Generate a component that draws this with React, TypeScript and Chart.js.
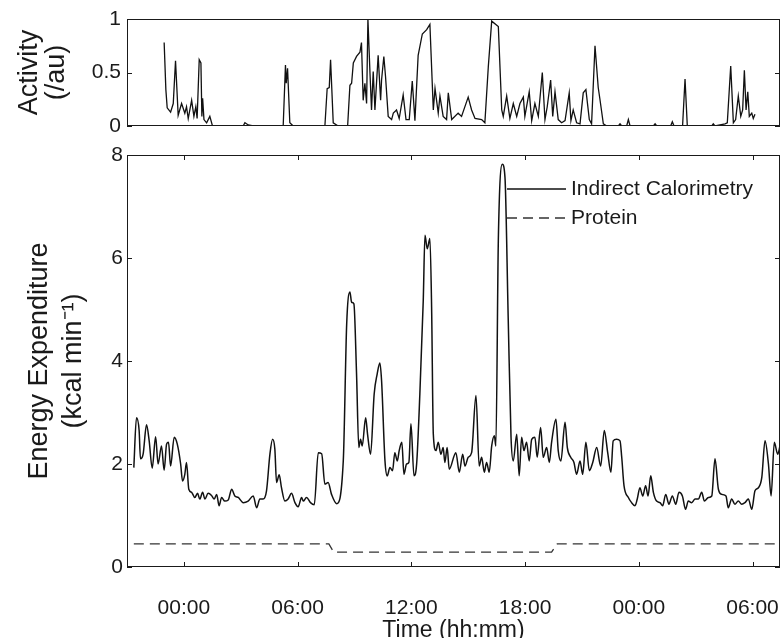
import React, { useEffect, useRef } from "react";
import { Chart, registerables } from "chart.js";

Chart.register(...registerables);

// ---------- data ----------
const tickHours = [0, 6, 12, 18, 24, 30];
const tickLabels = ["00:00", "06:00", "12:00", "18:00", "00:00", "06:00"];
const activityTicks = [0, 0.5, 1];
const energyTicks = [0, 2, 4, 6, 8];

const actHours = [
  -1.04, -0.95, -0.88, -0.7, -0.56, -0.44, -0.3, -0.12, 0.05, 0.14, 0.23, 0.41, 0.53, 0.63, 0.7, 0.81, 0.9, 0.95, 0.99,
  1.06, 1.2, 1.37, 1.51, 1.9, 3.13, 3.22, 3.4, 3.66, 5.24, 5.36, 5.4, 5.47, 5.59, 5.77, 7.44, 7.56, 7.67, 7.74, 7.88,
  8.14, 8.64, 8.76, 8.85, 8.94, 9.11, 9.29, 9.37, 9.46, 9.55, 9.64, 9.71, 9.82, 9.9, 9.99, 10.08, 10.25, 10.38, 10.43,
  10.55, 10.64, 10.78, 10.96, 11.05, 11.22, 11.36, 11.57, 11.72, 11.89, 12.05, 12.19, 12.36, 12.58, 12.81, 12.98,
  13.16, 13.25, 13.42, 13.51, 13.68, 13.86, 13.95, 14.13, 14.47, 14.65, 15.0, 15.18, 15.36, 15.71, 15.88, 16.06,
  16.24, 16.59, 16.77, 16.85, 17.03, 17.2, 17.38, 17.56, 17.73, 17.91, 17.99, 18.22, 18.35, 18.52, 18.7, 18.91,
  19.05, 19.17, 19.35, 19.46, 19.58, 19.75, 19.93, 20.11, 20.33, 20.42, 20.54, 20.72, 20.9, 21.07, 21.21, 21.39,
  21.51, 21.69, 21.86, 21.95, 22.13, 22.31, 22.92, 23.01, 23.1, 23.36, 23.45, 23.54, 24.77, 24.86, 24.95, 25.68,
  25.77, 25.86, 26.31, 26.44, 26.56, 27.85, 27.93, 28.02, 28.55, 28.67, 28.85, 28.99, 29.11, 29.25, 29.38, 29.48,
  29.57, 29.66, 29.75, 29.83, 29.96, 30.04, 30.13,
];
const actValues = [
  0.78, 0.34, 0.17, 0.13, 0.21, 0.61, 0.1, 0.21, 0.12, 0.18, 0.07, 0.24, 0.09, 0.18, 0.07, 0.62, 0.59, 0.09, 0.26,
  0.06, 0.03, 0.09, 0.0, 0.0, 0.0, 0.03, 0.01, 0.0, 0.0, 0.57, 0.4, 0.54, 0.03, 0.0, 0.0, 0.35, 0.36, 0.62, 0.03,
  0.0, 0.0, 0.38, 0.4, 0.59, 0.65, 0.69, 0.78, 0.24, 0.4, 0.21, 1.0, 0.49, 0.15, 0.51, 0.15, 0.66, 0.24, 0.43,
  0.65, 0.46, 0.09, 0.06, 0.12, 0.15, 0.07, 0.29, 0.06, 0.06, 0.42, 0.05, 0.66, 0.86, 0.9, 0.95,
  0.15, 0.35, 0.12, 0.28, 0.09, 0.06, 0.31, 0.06, 0.12, 0.09, 0.27, 0.15, 0.07, 0.06, 0.03, 0.55,
  0.98, 0.93, 0.15, 0.09, 0.28, 0.07, 0.21, 0.09, 0.21, 0.27, 0.09, 0.32, 0.05, 0.21, 0.09, 0.5,
  0.06, 0.18, 0.43, 0.09, 0.32, 0.06, 0.03, 0.05, 0.31, 0.05, 0.15, 0.03, 0.02, 0.31, 0.34, 0.06,
  0.02, 0.75, 0.36, 0.25, 0.02, 0.0, 0.0, 0.02, 0.0, 0.0, 0.06, 0.0, 0.0, 0.02, 0.0, 0.0,
  0.04, 0.0, 0.0, 0.44, 0.0, 0.0, 0.02, 0.0, 0.02, 0.03, 0.56, 0.03, 0.06, 0.28, 0.09, 0.15,
  0.52, 0.15, 0.32, 0.09, 0.12, 0.07, 0.11,
];

const eeHours = [
  -2.64, -2.5, -2.36, -2.29, -2.15, -1.97, -1.83, -1.67, -1.49, -1.36, -1.18, -1.04, -0.91, -0.81, -0.7, -0.51, -0.35,
  -0.17, -0.07, 0.05, 0.14, 0.26, 0.41, 0.58, 0.72, 0.84, 0.99, 1.11, 1.28, 1.46, 1.6, 1.73, 1.86, 1.99, 2.16, 2.34,
  2.52, 2.69, 2.87, 3.13, 3.39, 3.66, 3.84, 4.01, 4.18, 4.36, 4.54, 4.68, 4.8, 4.89, 5.03, 5.15, 5.33, 5.5, 5.68,
  5.86, 6.03, 6.21, 6.3, 6.47, 6.68, 6.88, 7.09, 7.27, 7.44, 7.61, 7.79, 8.06, 8.41, 8.59, 8.76, 8.85, 8.97, 9.11,
  9.23, 9.32, 9.41, 9.59, 9.69, 9.85, 10.04, 10.2, 10.34, 10.43, 10.61, 10.73, 10.87, 11.01, 11.13, 11.26, 11.36,
  11.5, 11.61, 11.75, 11.87, 11.98, 12.14, 12.28, 12.45, 12.63, 12.72, 12.84, 12.98, 13.07, 13.16, 13.3, 13.42,
  13.56, 13.68, 13.77, 13.89, 14.0, 14.35, 14.53, 14.71, 14.83, 15.0, 15.18, 15.41, 15.58, 15.71, 15.85, 15.97,
  16.11, 16.24, 16.38, 16.46, 16.59, 16.8, 16.94, 17.11, 17.26, 17.38, 17.56, 17.69, 17.82, 17.94, 18.08, 18.22,
  18.35, 18.52, 18.64, 18.82, 18.96, 19.14, 19.28, 19.4, 19.63, 19.75, 19.89, 20.11, 20.23, 20.41, 20.58, 20.72,
  20.9, 21.04, 21.21, 21.39, 21.57, 21.78, 21.99, 22.18, 22.36, 22.53, 22.65, 22.83, 23.01, 23.1, 23.22, 23.45,
  23.62, 23.8, 23.92, 24.06, 24.21, 24.36, 24.49, 24.63, 24.77, 24.94, 25.12, 25.26, 25.42, 25.59, 25.77, 25.95,
  26.12, 26.3, 26.47, 26.61, 26.79, 26.97, 27.14, 27.32, 27.46, 27.67, 27.85, 28.02, 28.2, 28.38, 28.6, 28.72,
  28.9, 29.07, 29.25, 29.43, 29.6, 29.78, 29.96, 30.13, 30.31, 30.49, 30.66, 30.84, 30.98, 31.15, 31.33, 31.45,
];
const eeValues = [
  1.93, 2.9, 2.65, 2.1, 2.19, 2.76, 2.45, 1.92, 2.53, 2.0, 2.35, 1.88, 2.39, 2.42, 1.96, 2.52, 2.39,
  2.0, 1.67, 1.8, 2.03, 1.51, 1.45, 1.35, 1.43, 1.32, 1.45, 1.32, 1.43, 1.39, 1.32, 1.41, 1.19, 1.35, 1.28, 1.3,
  1.51, 1.38, 1.35, 1.25, 1.28, 1.38, 1.15, 1.32, 1.32, 1.48, 2.19, 2.48, 2.29, 1.64, 1.79, 1.54, 1.28, 1.32, 1.43,
  1.25, 1.17, 1.35, 1.28, 1.35, 1.25, 1.21, 2.22, 2.2, 1.61, 1.64, 1.41, 1.23, 2.06, 4.72, 5.34, 5.14, 5.11, 3.75,
  2.32, 2.48, 2.35, 2.9, 2.58, 2.19, 3.36, 3.75, 3.96, 3.62, 2.06, 1.77, 1.93, 1.87, 2.22, 2.06, 2.26,
  2.42, 1.8, 2.0, 2.03, 2.78, 1.77, 2.0, 3.36, 5.18, 6.44, 6.18, 6.38, 5.05, 2.58, 2.26, 2.42,
  2.19, 2.32, 2.03, 2.32, 1.9, 2.22, 1.84, 2.19, 1.96, 2.13, 2.22, 3.33, 1.96, 2.13, 1.84, 2.03,
  1.84, 2.35, 2.55, 2.35, 6.34, 7.82, 7.57, 4.85, 2.52, 2.06, 2.58, 1.77, 2.52, 2.26, 2.42, 2.06,
  2.48, 2.52, 2.13, 2.71, 2.13, 2.32, 2.03, 2.42, 2.87, 2.26, 2.06, 2.81, 2.32, 2.13, 2.03, 1.8,
  2.06, 1.8, 2.42, 1.87, 2.03, 2.32, 1.96, 2.65, 2.22, 1.84, 2.45, 2.48, 2.45, 2.13, 1.58, 1.35,
  1.25, 1.19, 1.32, 1.54, 1.38, 1.58, 1.38, 1.77, 1.45, 1.28, 1.25, 1.19, 1.41, 1.22, 1.38, 1.22,
  1.45, 1.38, 1.12, 1.28, 1.25, 1.32, 1.32, 1.45, 1.28, 1.35, 1.38, 2.1, 1.51, 1.41, 1.38, 1.15,
  1.32, 1.22, 1.28, 1.22, 1.25, 1.32, 1.12, 1.48, 1.54, 1.74, 2.45, 2.0, 1.38, 2.42, 2.19, 2.35,
];

const proteinHours = [-2.64, 7.65, 7.9, 19.4, 19.7, 31.45];
const proteinValues = [0.45, 0.45, 0.29, 0.29, 0.45, 0.45];

// ---------- styling ----------
const FONT = "'Liberation Sans', Arial, Helvetica, sans-serif";
const INK = "#1a1a1a";
const X_MIN = -3;
const X_MAX = 31.45;

const toPoints = (xs: number[], ys: number[]) => xs.map((x, i) => ({ x, y: ys[i] }));

const zeroPadding = (s: any) => {
  s.paddingLeft = 0;
  s.paddingRight = 0;
  s.paddingTop = 0;
  s.paddingBottom = 0;
};

const framePlugin = {
  id: "matlabFrame",
  afterDatasetsDraw(chart: any, _args: any, opts: any) {
    const { ctx, chartArea: a } = chart;
    ctx.save();
    ctx.strokeStyle = INK;
    ctx.lineWidth = 1;
    ctx.setLineDash([]);
    ctx.strokeRect(a.left + 0.5, a.top + 0.5, a.right - a.left - 1, a.bottom - a.top - 1);
    const len = 5;
    const ys = chart.scales.y;
    ctx.beginPath();
    ys.ticks.forEach((t: any) => {
      const p = Math.round(ys.getPixelForValue(t.value)) + 0.5;
      ctx.moveTo(a.left, p);
      ctx.lineTo(a.left + len, p);
      ctx.moveTo(a.right, p);
      ctx.lineTo(a.right - len, p);
    });
    if (opts && opts.xTicks) {
      const xs = chart.scales.x;
      xs.ticks.forEach((t: any) => {
        const p = Math.round(xs.getPixelForValue(t.value)) + 0.5;
        ctx.moveTo(p, a.bottom);
        ctx.lineTo(p, a.bottom - len);
        ctx.moveTo(p, a.top);
        ctx.lineTo(p, a.top + len);
      });
    }
    ctx.stroke();
    ctx.restore();
  },
};

const insideLegendPlugin = {
  id: "insideLegend",
  afterDatasetsDraw(chart: any) {
    const { ctx, chartArea: a } = chart;
    ctx.save();
    ctx.font = `21px ${FONT}`;
    ctx.textBaseline = "middle";
    ctx.textAlign = "left";
    chart.data.datasets.forEach((ds: any, i: number) => {
      const y = a.top + 34 + i * 29;
      ctx.strokeStyle = ds.borderColor;
      ctx.lineWidth = 1.3;
      ctx.setLineDash(ds.borderDash || []);
      ctx.beginPath();
      ctx.moveTo(a.right - 273, y);
      ctx.lineTo(a.right - 214, y);
      ctx.stroke();
      ctx.setLineDash([]);
      ctx.fillStyle = INK;
      ctx.fillText(ds.label, a.right - 209, y);
    });
    ctx.restore();
  },
};

function ActivityChart() {
  const ref = useRef<HTMLCanvasElement | null>(null);
  useEffect(() => {
    if (!ref.current) return;
    const chart = new Chart(ref.current, {
      type: "line",
      data: {
        datasets: [
          {
            label: "Activity",
            data: toPoints(actHours, actValues),
            borderColor: "#111",
            borderWidth: 1.3,
            pointRadius: 0,
            tension: 0,
          },
        ],
      },
      options: {
        animation: false,
        responsive: false,
        devicePixelRatio: 1,
        layout: { padding: { left: 0, right: 3, top: 19, bottom: 14 } },
        plugins: { legend: { display: false }, tooltip: { enabled: false }, matlabFrame: { xTicks: false } } as any,
        scales: {
          x: { type: "linear", min: X_MIN, max: X_MAX, display: false },
          y: {
            type: "linear",
            min: 0,
            max: 1,
            afterBuildTicks: (s: any) => {
              s.ticks = activityTicks.map((v) => ({ value: v }));
            },
            afterFit: (s: any) => {
              s.width = 127;
              zeroPadding(s);
            },
            grid: { display: false, drawTicks: false },
            border: { display: false },
            ticks: {
              font: { family: FONT, size: 21 },
              color: INK,
              padding: 6,
              callback: (v: any) => String(Number(v)),
            },
            title: {
              display: true,
              text: ["Activity", "(/au)"],
              font: { family: FONT, size: 27, lineHeight: 1.0 },
              color: INK,
              padding: { top: 16, bottom: 0 },
            },
          },
        },
      },
      plugins: [framePlugin],
    });
    return () => chart.destroy();
  }, []);
  return (
    <canvas
      ref={ref}
      width={783}
      height={140}
      style={{ position: "absolute", left: 0, top: 0, width: 783, height: 140 }}
    />
  );
}

function EnergyChart() {
  const ref = useRef<HTMLCanvasElement | null>(null);
  useEffect(() => {
    if (!ref.current) return;
    const chart = new Chart(ref.current, {
      type: "line",
      data: {
        datasets: [
          {
            label: "Indirect Calorimetry",
            data: toPoints(eeHours, eeValues),
            borderColor: "#111",
            borderWidth: 1.5,
            pointRadius: 0,
            cubicInterpolationMode: "monotone",
          },
          {
            label: "Protein",
            data: toPoints(proteinHours, proteinValues),
            borderColor: "#333",
            borderWidth: 1.3,
            borderDash: [10, 6],
            pointRadius: 0,
            tension: 0,
          },
        ],
      },
      options: {
        animation: false,
        responsive: false,
        devicePixelRatio: 1,
        layout: { padding: { left: 0, right: 3, top: 15, bottom: 0 } },
        plugins: { legend: { display: false }, tooltip: { enabled: false }, matlabFrame: { xTicks: true } } as any,
        scales: {
          x: {
            type: "linear",
            min: X_MIN,
            max: X_MAX,
            afterBuildTicks: (s: any) => {
              s.ticks = tickHours.map((v) => ({ value: v }));
            },
            afterFit: (s: any) => {
              s.height = 93;
              zeroPadding(s);
            },
            grid: { display: false, drawTicks: false },
            border: { display: false },
            ticks: {
              font: { family: FONT, size: 21 },
              color: INK,
              padding: 29,
              maxRotation: 0,
              autoSkip: false,
              callback: (v: any) => {
                const i = tickHours.indexOf(Number(v));
                return i >= 0 ? tickLabels[i] : "";
              },
            },
            title: {
              display: true,
              text: "Time (hh:mm)",
              font: { family: FONT, size: 23 },
              color: INK,
              padding: { top: 0, bottom: 16 },
            },
          },
          y: {
            type: "linear",
            min: 0,
            max: 8,
            afterBuildTicks: (s: any) => {
              s.ticks = energyTicks.map((v) => ({ value: v }));
            },
            afterFit: (s: any) => {
              s.width = 127;
              zeroPadding(s);
            },
            grid: { display: false, drawTicks: false },
            border: { display: false },
            ticks: {
              font: { family: FONT, size: 21 },
              color: INK,
              padding: 4,
              callback: (v: any) => String(Number(v)),
            },
            title: {
              display: true,
              text: ["Energy Expenditure", "(kcal min\u207B\u00B9)"],
              font: { family: FONT, size: 27, lineHeight: 1.26 },
              color: INK,
              padding: { top: 23, bottom: 0 },
            },
          },
        },
      },
      plugins: [framePlugin, insideLegendPlugin],
    });
    return () => chart.destroy();
  }, []);
  return (
    <canvas
      ref={ref}
      width={783}
      height={520}
      style={{ position: "absolute", left: 0, top: 140, width: 783, height: 520 }}
    />
  );
}

export default function App() {
  return (
    <div
      style={{
        position: "absolute",
        left: 0,
        top: 0,
        width: 783,
        height: 638,
        overflow: "hidden",
        background: "#fff",
      }}
    >
      <ActivityChart />
      <EnergyChart />
    </div>
  );
}
